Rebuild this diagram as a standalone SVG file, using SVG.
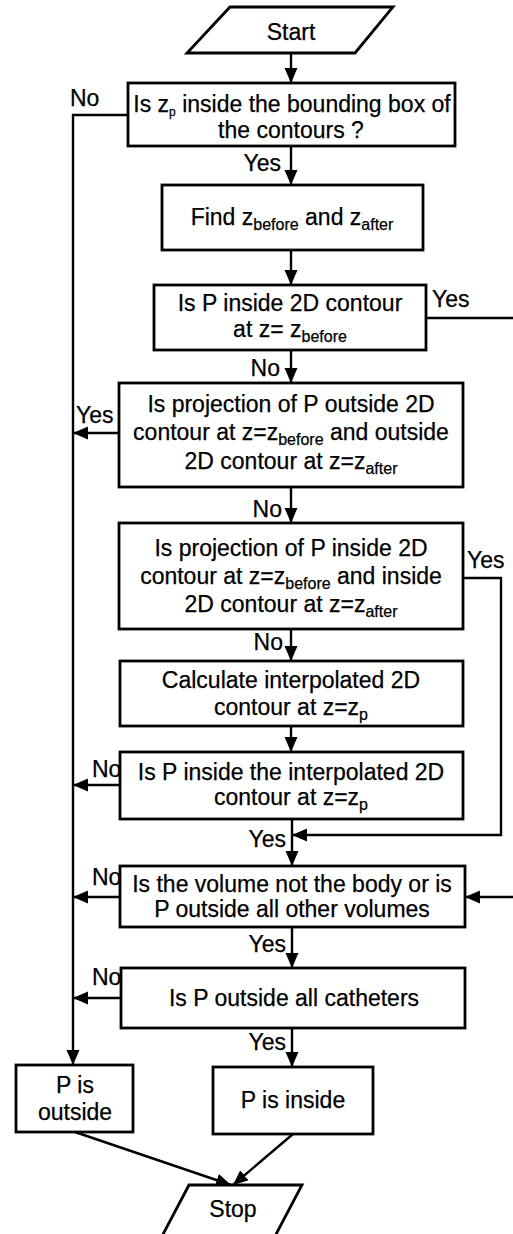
<svg xmlns="http://www.w3.org/2000/svg" width="513" height="1234" viewBox="0 0 513 1234">
<style>
.box{fill:#fff;stroke:#000;stroke-width:2.8}
.ln{fill:none;stroke:#000;stroke-width:2.4}
text{font-family:"Liberation Sans",Arial,sans-serif;font-size:23px;fill:#000;stroke:#000;stroke-width:0.25}
tspan{fill:#000}
.c{text-anchor:middle}
.e{text-anchor:end}
.sub{font-size:16px}
.sub2{font-size:12px}
</style>
<defs>
<marker id="ah" markerUnits="userSpaceOnUse" markerWidth="16" markerHeight="14" refX="15" refY="6.5" orient="auto">
<path d="M0,0 L15,6.5 L0,13 z" fill="#000"/>
</marker>
</defs>
<rect width="513" height="1234" fill="#fff"/>
<g id="connectors">
<line class="ln" x1="291" y1="53" x2="291" y2="83" marker-end="url(#ah)"/>
<polyline class="ln" points="128,115 73,115 73,1065" marker-end="url(#ah)"/>
<line class="ln" x1="291" y1="146" x2="291" y2="185" marker-end="url(#ah)"/>
<line class="ln" x1="291" y1="250" x2="291" y2="285" marker-end="url(#ah)"/>
<line class="ln" x1="426" y1="318" x2="513" y2="318"/>
<line class="ln" x1="291" y1="350" x2="291" y2="383" marker-end="url(#ah)"/>
<line class="ln" x1="119" y1="433" x2="73" y2="433" marker-end="url(#ah)"/>
<line class="ln" x1="291" y1="487" x2="291" y2="523" marker-end="url(#ah)"/>
<polyline class="ln" points="463,578 501,578 501,835 292,835" marker-end="url(#ah)"/>
<line class="ln" x1="291" y1="629" x2="291" y2="661" marker-end="url(#ah)"/>
<line class="ln" x1="291" y1="726" x2="291" y2="752" marker-end="url(#ah)"/>
<line class="ln" x1="120" y1="785" x2="73" y2="785" marker-end="url(#ah)"/>
<line class="ln" x1="292" y1="819" x2="292" y2="866" marker-end="url(#ah)"/>
<line class="ln" x1="120" y1="897" x2="73" y2="897" marker-end="url(#ah)"/>
<line class="ln" x1="513" y1="897" x2="465" y2="897" marker-end="url(#ah)"/>
<line class="ln" x1="292" y1="927" x2="292" y2="968" marker-end="url(#ah)"/>
<line class="ln" x1="121" y1="998" x2="73" y2="998" marker-end="url(#ah)"/>
<line class="ln" x1="292" y1="1028" x2="292" y2="1067" marker-end="url(#ah)"/>
<line class="ln" x1="75" y1="1132" x2="231" y2="1185" marker-end="url(#ah)"/>
<line class="ln" x1="293" y1="1134" x2="233" y2="1185" marker-end="url(#ah)"/>
</g>
<g id="labels">
<text x="70" y="106">No</text>
<text class="e" x="281" y="171">Yes</text>
<text x="432" y="307">Yes</text>
<text class="e" x="280" y="376">No</text>
<text x="76" y="423">Yes</text>
<text class="e" x="282" y="517">No</text>
<text x="467" y="568">Yes</text>
<text class="e" x="283" y="650">No</text>
<text x="92" y="777">No</text>
<text class="e" x="286" y="847">Yes</text>
<text x="92" y="885">No</text>
<text class="e" x="286" y="952">Yes</text>
<text x="92" y="985">No</text>
<text class="e" x="286" y="1050">Yes</text>
</g>
<g id="start">
<polygon class="box" points="230,7 393,7 355,53 187,53"/>
<text class="c" x="291" y="40">Start</text>
</g>
<g id="bbox">
<rect class="box" x="128" y="83" width="327" height="63"/>
<text class="c" x="292" y="112">Is z<tspan class="sub2" dy="4">p</tspan><tspan dy="-4"> inside the bounding box of</tspan></text>
<text class="c" x="291" y="138">the contours ?</text>
</g>
<g id="find">
<rect class="box" x="162" y="185" width="261" height="65"/>
<text class="c" x="292" y="225">Find z<tspan class="sub" dy="5">before</tspan><tspan dy="-5">  and z</tspan><tspan class="sub" dy="5">after</tspan></text>
</g>
<g id="inside2d">
<rect class="box" x="154" y="285" width="272" height="65"/>
<text class="c" x="290" y="311">Is P inside 2D contour</text>
<text class="c" x="290" y="337">at z= z<tspan class="sub" dy="5">before</tspan></text>
</g>
<g id="projout">
<rect class="box" x="119" y="383" width="344" height="104"/>
<text class="c" x="291" y="412">Is projection of P outside 2D</text>
<text class="c" x="291" y="440">contour at z=z<tspan class="sub" dy="5">before</tspan><tspan dy="-5">  and outside</tspan></text>
<text class="c" x="291" y="469">2D contour at z=z<tspan class="sub" dy="5">after</tspan></text>
</g>
<g id="projin">
<rect class="box" x="119" y="523" width="344" height="106"/>
<text class="c" x="291" y="556">Is projection of P inside 2D</text>
<text class="c" x="291" y="584">contour at z=z<tspan class="sub" dy="5">before</tspan><tspan dy="-5">  and inside</tspan></text>
<text class="c" x="291" y="612">2D contour at z=z<tspan class="sub" dy="5">after</tspan></text>
</g>
<g id="calc">
<rect class="box" x="120" y="661" width="343" height="65"/>
<text class="c" x="291" y="688">Calculate interpolated 2D</text>
<text class="c" x="291" y="715">contour at z=z<tspan class="sub" dy="5">p</tspan></text>
</g>
<g id="interp">
<rect class="box" x="120" y="752" width="343" height="67"/>
<text class="c" x="291" y="780">Is P inside the interpolated 2D</text>
<text class="c" x="291" y="805">contour at z=z<tspan class="sub" dy="5">p</tspan></text>
</g>
<g id="volume">
<rect class="box" x="120" y="866" width="345" height="61"/>
<text class="c" x="292" y="892">Is the volume not the body or is</text>
<text class="c" x="292" y="917">P outside all other volumes</text>
</g>
<g id="catheters">
<rect class="box" x="121" y="968" width="344" height="60"/>
<text class="c" x="294" y="1006">Is P outside all catheters</text>
</g>
<g id="outside">
<rect class="box" x="16" y="1065" width="117" height="67"/>
<text class="c" x="75" y="1093">P is</text>
<text class="c" x="75" y="1120">outside</text>
</g>
<g id="inside">
<rect class="box" x="213" y="1067" width="160" height="67"/>
<text class="c" x="293" y="1108">P is inside</text>
</g>
<g id="stop">
<polygon class="box" points="189,1185 302,1185 273,1240 160,1240"/>
<text class="c" x="233" y="1217">Stop</text>
</g>
</svg>
